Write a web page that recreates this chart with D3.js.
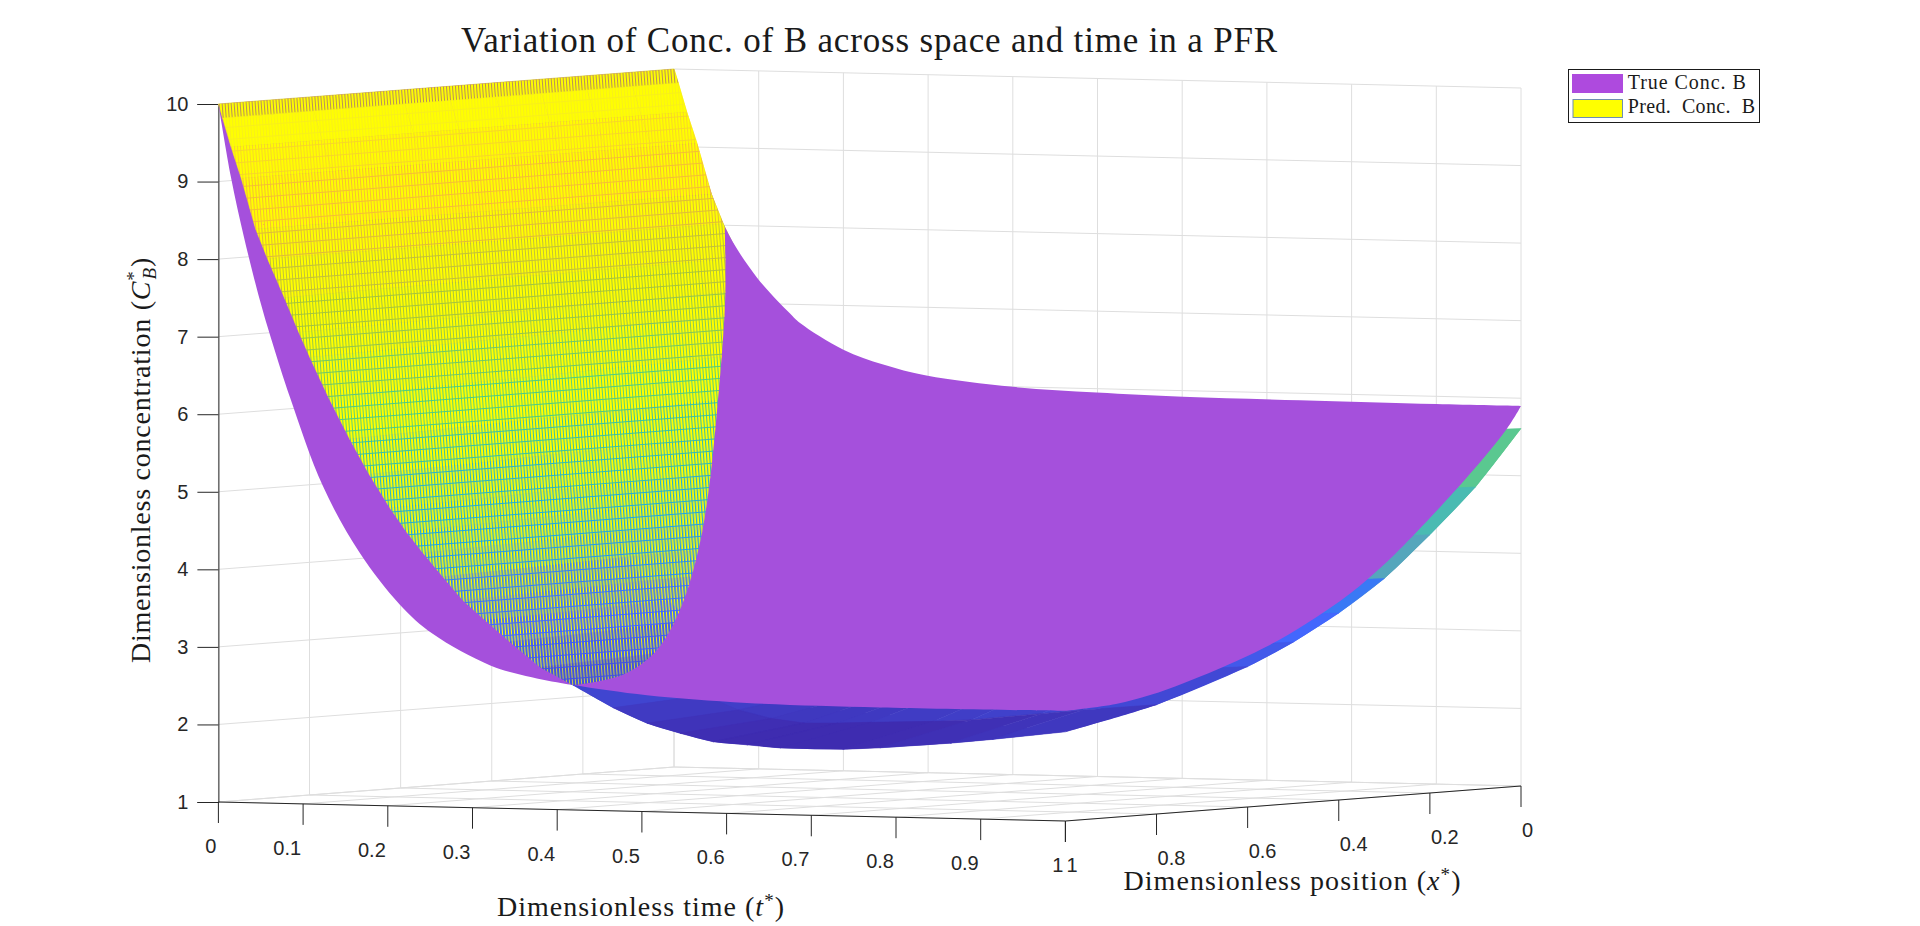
<!DOCTYPE html>
<html>
<head>
<meta charset="utf-8">
<script src="https://cdn.jsdelivr.net/npm/d3@7"></script>
<style>
    html, body { margin: 0; padding: 0; background: #fff; overflow: hidden; }
    .tickLabel, .tick text { font-family: "Liberation Sans", Arial, sans-serif; font-size: 20px; fill: #262626; }
    .serif { font-family: "Liberation Serif", "Times New Roman", serif; fill: #1a1a1a; }
</style>
</head>
<body>
<div id="chart"></div>
<script>
const T_TICKS = [0, 0.1, 0.2, 0.3, 0.4, 0.5, 0.6, 0.7, 0.8, 0.9, 1];
const X_TICKS = [0, 0.2, 0.4, 0.6, 0.8, 1];
const Z_TICKS = [1, 2, 3, 4, 5, 6, 7, 8, 9, 10];

// true surface, read along its edges
const TRUE_X0_T = [0, 0.027, 0.06, 0.0976, 0.137, 0.1488, 0.2, 0.247, 0.298, 0.4, 0.499, 0.601, 0.739, 0.9, 1];
const TRUE_X0_C = [10, 9.0, 7.98, 7.34, 6.88, 6.76, 6.43, 6.25, 6.12, 6.0, 5.95, 5.92, 5.91, 5.9, 5.9];
const TRUE_T1_X = [0, 0.031, 0.119, 0.229, 0.303, 0.375, 0.47, 0.558, 0.668, 0.741, 0.814, 0.889, 1];
const TRUE_T1_C = [5.9, 5.62, 5.03, 4.38, 3.98, 3.65, 3.31, 3.05, 2.8, 2.66, 2.54, 2.46, 2.42];
const TRUE_X1_T = [0, 0.015, 0.03, 0.049, 0.0634, 0.0845, 0.1235, 0.167, 0.214, 0.253, 0.321, 0.37, 0.419, 0.506, 0.624, 0.781, 1];
const TRUE_X1_C = [10, 9.05, 8.3, 7.48, 6.95, 6.24, 5.1, 4.25, 3.6, 3.23, 2.84, 2.7, 2.61, 2.5, 2.43, 2.41, 2.42];

// where the two surfaces cross
const CROSS_T = [0.06, 0.098, 0.163, 0.222, 0.27, 0.328, 0.375, 0.405, 0.4186];
const CROSS_X = [0, 0.07, 0.209, 0.34, 0.452, 0.597, 0.735, 0.865, 1];
const CROSS_C = [7.98, 7.07, 5.7, 4.63, 3.98, 3.37, 2.93, 2.68, 2.61];

// predicted surface, one row per t sample, one column per x sample
const PRED_X = [0, 0.1, 0.2, 0.3, 0.4, 0.5, 0.6, 0.8, 1];
const PRED_T = [0, 0.005, 0.015, 0.027, 0.044, 0.058, 0.078, 0.095, 0.108, 0.13, 0.155, 0.178, 0.2026, 0.222, 0.2416, 0.265,
    0.2888, 0.315, 0.344, 0.38, 0.4186, 0.466, 0.506, 0.545, 0.584, 0.624, 0.663, 0.737, 0.781, 0.864, 0.913, 1];
const PRED_C = [
    [10, 10, 10, 10, 10, 10, 10, 10, 10],
    [9.82, 9.82, 9.82, 9.82, 9.82, 9.82, 9.82, 9.82, 9.82],
    [9.45, 9.45, 9.45, 9.45, 9.45, 9.45, 9.45, 9.45, 9.45],
    [9.05, 9.05, 9.05, 9.05, 9.05, 9.05, 9.05, 9.05, 9.05],
    [8.4, 8.4, 8.4, 8.4, 8.4, 8.4, 8.4, 8.4, 8.4],
    [8.02, 8.02, 8.02, 8.02, 8.02, 8.02, 8.02, 8.02, 8.02],
    [7.58, 7.58, 7.57, 7.57, 7.56, 7.56, 7.55, 7.54, 7.52],
    [7.18, 7.17, 7.16, 7.15, 7.14, 7.13, 7.12, 7.1, 7.08],
    [6.9, 6.88, 6.86, 6.85, 6.84, 6.82, 6.81, 6.78, 6.76],
    [6.41, 6.39, 6.37, 6.35, 6.34, 6.32, 6.31, 6.28, 6.25],
    [5.89, 5.87, 5.85, 5.83, 5.81, 5.8, 5.79, 5.75, 5.72],
    [5.44, 5.42, 5.4, 5.38, 5.36, 5.35, 5.34, 5.3, 5.27],
    [5.01, 4.99, 4.97, 4.95, 4.93, 4.92, 4.91, 4.87, 4.84],
    [4.71, 4.69, 4.67, 4.65, 4.63, 4.62, 4.61, 4.57, 4.54],
    [4.44, 4.42, 4.4, 4.38, 4.36, 4.35, 4.34, 4.3, 4.27],
    [4.14, 4.12, 4.1, 4.08, 4.06, 4.05, 4.04, 4.0, 3.97],
    [3.84, 3.82, 3.8, 3.78, 3.76, 3.75, 3.74, 3.7, 3.67],
    [3.65, 3.6, 3.57, 3.55, 3.53, 3.51, 3.49, 3.45, 3.42],
    [3.8, 3.5, 3.4, 3.35, 3.31, 3.28, 3.25, 3.19, 3.15],
    [4.1, 3.4, 3.1, 3.05, 3.0, 2.97, 2.94, 2.88, 2.83],
    [4.4, 3.7, 3.2, 2.98, 2.85, 2.78, 2.73, 2.66, 2.61],
    [4.7, 3.95, 3.35, 2.95, 2.7, 2.55, 2.47, 2.4, 2.33],
    [4.9, 4.15, 3.55, 3.1, 2.8, 2.55, 2.38, 2.22, 2.14],
    [5.0, 4.3, 3.7, 3.2, 2.85, 2.56, 2.35, 2.12, 2.02],
    [5.1, 4.4, 3.8, 3.3, 2.92, 2.62, 2.38, 2.07, 1.92],
    [5.2, 4.5, 3.9, 3.4, 3.0, 2.68, 2.42, 2.08, 1.89],
    [5.25, 4.55, 3.97, 3.47, 3.05, 2.72, 2.46, 2.1, 1.86],
    [5.35, 4.65, 4.07, 3.57, 3.15, 2.82, 2.55, 2.13, 1.86],
    [5.4, 4.7, 4.12, 3.62, 3.2, 2.86, 2.59, 2.16, 1.89],
    [5.5, 4.8, 4.22, 3.72, 3.3, 2.96, 2.69, 2.26, 1.97],
    [5.55, 4.84, 4.27, 3.75, 3.35, 3.02, 2.75, 2.32, 2.03],
    [5.61, 4.9, 4.33, 3.81, 3.41, 3.08, 2.81, 2.41, 2.15],
];

const LEGEND_LABELS = ['True Conc. B', 'Pred.  Conc.  B'];
const PARULA = ['#3e26a8', '#4367fd', '#1caadf', '#48cb86', '#a8c43a', '#f5b937', '#f9fb14'];

const width = 1920;
const height = 926;
const PURPLE = '#a550dc';
const GRID = '#dedede';
const INK = '#262626';

// the 3D axes are an oblique projection: each data axis has its own screen scale
const origin = { x: 674, y: 767 }; // t = 0, x = 0, z = 1
const tToX = d3.scaleLinear().domain([0, 1]).range([0, 847]);
const tToY = d3.scaleLinear().domain([0, 1]).range([0, 19]);
const xToX = d3.scaleLinear().domain([0, 1]).range([0, -455.6]);
const xToY = d3.scaleLinear().domain([0, 1]).range([0, 35]);
const zToY = d3.scaleLinear().domain([1, 10]).range([0, -698]);
const project = (t, x, z) => [
    origin.x + tToX(t) + xToX(x),
    origin.y + tToY(t) + xToY(x) + zToY(z),
];

const parula = d3.scaleLinear().domain(d3.range(7).map((i) => 1.86 + (8.14 * i) / 6)).range(PARULA).clamp(true);
const coverage = d3.scaleLinear().domain([2.6, 3.4, 4.5, 6, 9]).range([0.8, 0.6, 0.42, 0.3, 0.35]).clamp(true);
// below the crossing the mesh is packed tight, so hardly any yellow face shows
const packedColour = (z) => (z < 3.6 ? parula(z) : d3.interpolateRgb(parula(z), '#ffff00')(0.2));

const svg = d3.select('#chart').append('svg')
    .attr('width', width)
    .attr('height', height)
    .style('display', 'block');
const defs = svg.append('defs');

// faces are yellow and the dense mesh is coloured by height; a tile per height step stands in for it
const zBin = (z) => Math.round(z * 4) / 4;
d3.range(1.75, 10.25, 0.25).forEach((z) => {
    const edge = z >= 10 ? '#b8905a' : parula(z);
    const tile = defs.append('pattern')
        .attr('id', `mesh${z * 100}`)
        .attr('patternUnits', 'userSpaceOnUse')
        .attr('width', 3)
        .attr('height', 12)
        .attr('patternTransform', 'rotate(-4.4)');
    tile.append('rect').attr('width', 3).attr('height', 12).attr('fill', '#ffff00');
    tile.append('rect').attr('width', 3 * coverage(z)).attr('height', 12).attr('fill', edge);
    if (z < 10) tile.append('rect').attr('width', 3).attr('height', 1).attr('fill', edge);
});

// grid on the floor and the two back walls
const gridLines = [];
T_TICKS.forEach((t) => {
    gridLines.push([project(t, 0, 1), project(t, 0, 10)]);
    gridLines.push([project(t, 1, 1), project(t, 0, 1)]);
});
X_TICKS.forEach((x) => {
    gridLines.push([project(0, x, 1), project(0, x, 10)]);
    gridLines.push([project(0, x, 1), project(1, x, 1)]);
});
Z_TICKS.forEach((z) => {
    gridLines.push([project(0, 1, z), project(0, 0, z)]);
    gridLines.push([project(0, 0, z), project(1, 0, z)]);
});
svg.append('g').selectAll('line')
    .data(gridLines)
    .join('line')
    .attr('x1', (d) => d[0][0])
    .attr('y1', (d) => d[0][1])
    .attr('x2', (d) => d[1][0])
    .attr('y2', (d) => d[1][1])
    .attr('stroke', GRID)
    .attr('stroke-width', 1);

// axes
const zAxisPos = project(0, 1, 1);
svg.append('g')
    .attr('transform', `translate(${zAxisPos[0]},${zAxisPos[1]})`)
    .call(d3.axisLeft(zToY).tickValues(Z_TICKS).tickSize(21).tickPadding(9).tickFormat(d3.format('d')))
    .call((g) => g.select('.domain').attr('stroke', INK))
    .call((g) => g.selectAll('.tick line').attr('stroke', INK));

const frontT = [project(0, 1, 1), project(1, 1, 1)];
const frontX = [project(1, 1, 1), project(1, 0, 1)];
const axisLine = d3.line();
svg.append('path').attr('d', axisLine(frontT)).attr('stroke', INK).attr('fill', 'none');
svg.append('path').attr('d', axisLine(frontX)).attr('stroke', INK).attr('fill', 'none');

const tTickPos = T_TICKS.map((t) => ({ v: t, p: project(t, 1, 1) }));
const xTickPos = X_TICKS.map((x) => ({ v: x, p: project(1, x, 1) }));
svg.append('g').selectAll('line')
    .data(tTickPos.concat(xTickPos))
    .join('line')
    .attr('x1', (d) => d.p[0])
    .attr('y1', (d) => d.p[1])
    .attr('x2', (d) => d.p[0])
    .attr('y2', (d) => d.p[1] + 21)
    .attr('stroke', INK);
svg.append('g').selectAll('text')
    .data(tTickPos)
    .join('text')
    .attr('class', 'tickLabel')
    .attr('text-anchor', 'end')
    .attr('x', (d) => d.p[0] - 2)
    .attr('y', (d) => d.p[1] + 51)
    .text((d) => d.v);
svg.append('g').selectAll('text')
    .data(xTickPos)
    .join('text')
    .attr('class', 'tickLabel')
    .attr('x', (d) => d.p[0] + 1)
    .attr('y', (d) => d.p[1] + 51)
    .text((d) => d.v);

const smooth = d3.line().curve(d3.curveCatmullRom.alpha(0.5));

// smooth underlays so the predicted surface's outer edges don't show the sampling
const lastRow = PRED_C[PRED_C.length - 1];
const underlayFill = defs.append('linearGradient')
    .attr('id', 'predEdge')
    .attr('gradientUnits', 'userSpaceOnUse')
    .attr('x1', project(1, 1, 1)[0])
    .attr('x2', project(1, 0, 1)[0])
    .attr('y1', 0)
    .attr('y2', 0);
PRED_X.slice().reverse().forEach((x) => {
    underlayFill.append('stop')
        .attr('offset', 1 - x)
        .attr('stop-color', packedColour(lastRow[PRED_X.indexOf(x)]));
});
const lateRows = PRED_T.map((t, i) => i).filter((i) => PRED_T[i] >= 0.4186);
const predEdgeX1 = lateRows.map((i) => project(PRED_T[i], 1, PRED_C[i][PRED_X.length - 1]));
const predEdgeT1 = PRED_X.map((x, i) => project(1, x, lastRow[i]));
svg.append('g').selectAll('path')
    .data([predEdgeX1, predEdgeT1])
    .join('path')
    .attr('d', (d) => `${smooth(d)}Z`)
    .attr('fill', 'url(#predEdge)');

// predicted surface cells
const cells = [];
PRED_T.slice(0, -1).forEach((t, i) => {
    PRED_X.slice(0, -1).forEach((x, j) => {
        const corners = [[i, j], [i, j + 1], [i + 1, j + 1], [i + 1, j]];
        cells.push({
            pts: corners.map(([r, c]) => project(PRED_T[r], PRED_X[c], PRED_C[r][c])),
            z: d3.mean(corners, ([r, c]) => PRED_C[r][c]),
        });
    });
});
const cellPath = d3.line().curve(d3.curveLinearClosed);
const meshFill = (d) => `url(#mesh${zBin(d.z) * 100})`;

svg.append('g').selectAll('path')
    .data(cells)
    .join('path')
    .attr('d', (d) => cellPath(d.pts))
    .attr('fill', (d) => packedColour(d.z))
    .attr('stroke', (d) => packedColour(d.z))
    .attr('stroke-width', 0.6);

// true surface: one flat colour, so the outline of its four edges is enough
const edgeX0 = TRUE_X0_T.map((t, i) => project(t, 0, TRUE_X0_C[i]));
const edgeT1 = TRUE_T1_X.map((x, i) => project(1, x, TRUE_T1_C[i]));
const edgeX1 = TRUE_X1_T.map((t, i) => project(t, 1, TRUE_X1_C[i])).reverse();
const outline = smooth(edgeX0) + smooth(edgeT1).replace(/^M/, 'L') + smooth(edgeX1).replace(/^M/, 'L') + 'Z';
svg.append('path').attr('d', outline).attr('fill', PURPLE);

// the part of the predicted surface lying above the true one
const crossCurve = CROSS_T.map((t, i) => project(t, CROSS_X[i], CROSS_C[i]));
const clipOutline = smooth(crossCurve)
    + d3.line()([project(0, 1, 1), project(0, 1, 10), project(0, 0, 10), project(CROSS_T[0], 0, 10)]).replace(/^M/, 'L')
    + 'Z';
defs.append('clipPath').attr('id', 'aboveTrue').append('path').attr('d', clipOutline);
svg.append('g')
    .attr('clip-path', 'url(#aboveTrue)')
    .selectAll('path')
    .data(cells.filter((d) => d.z > 2.4))
    .join('path')
    .attr('d', (d) => cellPath(d.pts))
    .attr('fill', meshFill)
    .attr('stroke', meshFill)
    .attr('stroke-width', 0.6);

// stretch a text to the width it has in the picture
const fitWidth = (sel, target) => {
    const node = sel.node();
    const gap = (target - node.getComputedTextLength()) / node.textContent.length;
    sel.style('letter-spacing', `${gap}px`);
    return sel;
};

const title = svg.append('text')
    .attr('class', 'serif')
    .attr('x', 461)
    .attr('y', 52)
    .style('font-size', '35px')
    .text('Variation of Conc. of B across space and time in a PFR');
fitWidth(title, 817);

const tLabel = svg.append('text')
    .attr('class', 'serif')
    .attr('x', 497)
    .attr('y', 916)
    .style('font-size', '28px');
tLabel.append('tspan').text('Dimensionless time (');
tLabel.append('tspan').style('font-style', 'italic').text('t');
tLabel.append('tspan').attr('dy', -9).style('font-size', '19px').text('*');
tLabel.append('tspan').attr('dy', 9).text(')');
fitWidth(tLabel, 288);

const xLabel = svg.append('text')
    .attr('class', 'serif')
    .attr('x', 1123.5)
    .attr('y', 890)
    .style('font-size', '28px');
xLabel.append('tspan').text('Dimensionless position (');
xLabel.append('tspan').style('font-style', 'italic').text('x');
xLabel.append('tspan').attr('dy', -9).style('font-size', '19px').text('*');
xLabel.append('tspan').attr('dy', 9).text(')');
fitWidth(xLabel, 338);

const zLabel = svg.append('text')
    .attr('class', 'serif')
    .attr('transform', 'translate(149.5,663) rotate(-90)')
    .style('font-size', '28px');
zLabel.append('tspan').text('Dimensionless concentration (');
zLabel.append('tspan').style('font-style', 'italic').text('C');
zLabel.append('tspan').attr('dy', -10).style('font-size', '19px').text('*');
zLabel.append('tspan').attr('dx', -9).attr('dy', 16).style('font-size', '19px').style('font-style', 'italic').text('B');
zLabel.append('tspan').attr('dy', -6).text(')');
fitWidth(zLabel, 415);

// legend
const legend = svg.append('g');
legend.append('rect')
    .attr('x', 1568.5)
    .attr('y', 69.5)
    .attr('width', 191)
    .attr('height', 53)
    .attr('fill', '#fff')
    .attr('stroke', '#1a1a1a');
legend.append('rect')
    .attr('x', 1572)
    .attr('y', 74)
    .attr('width', 51)
    .attr('height', 19)
    .attr('fill', '#ae4ade');
legend.append('rect')
    .attr('x', 1573)
    .attr('y', 99.5)
    .attr('width', 49.5)
    .attr('height', 18)
    .attr('fill', '#ffff00')
    .attr('stroke', '#6e8fb0');
const legendWidths = [119, 127.7];
LEGEND_LABELS.forEach((label, i) => {
    const item = legend.append('text')
        .attr('class', 'serif')
        .attr('x', 1627.7)
        .attr('y', 89.3 + i * 24)
        .attr('xml:space', 'preserve')
        .style('white-space', 'pre')
        .style('font-size', '20px')
        .text(label);
    fitWidth(item, legendWidths[i]);
});
</script>
</body>
</html>
